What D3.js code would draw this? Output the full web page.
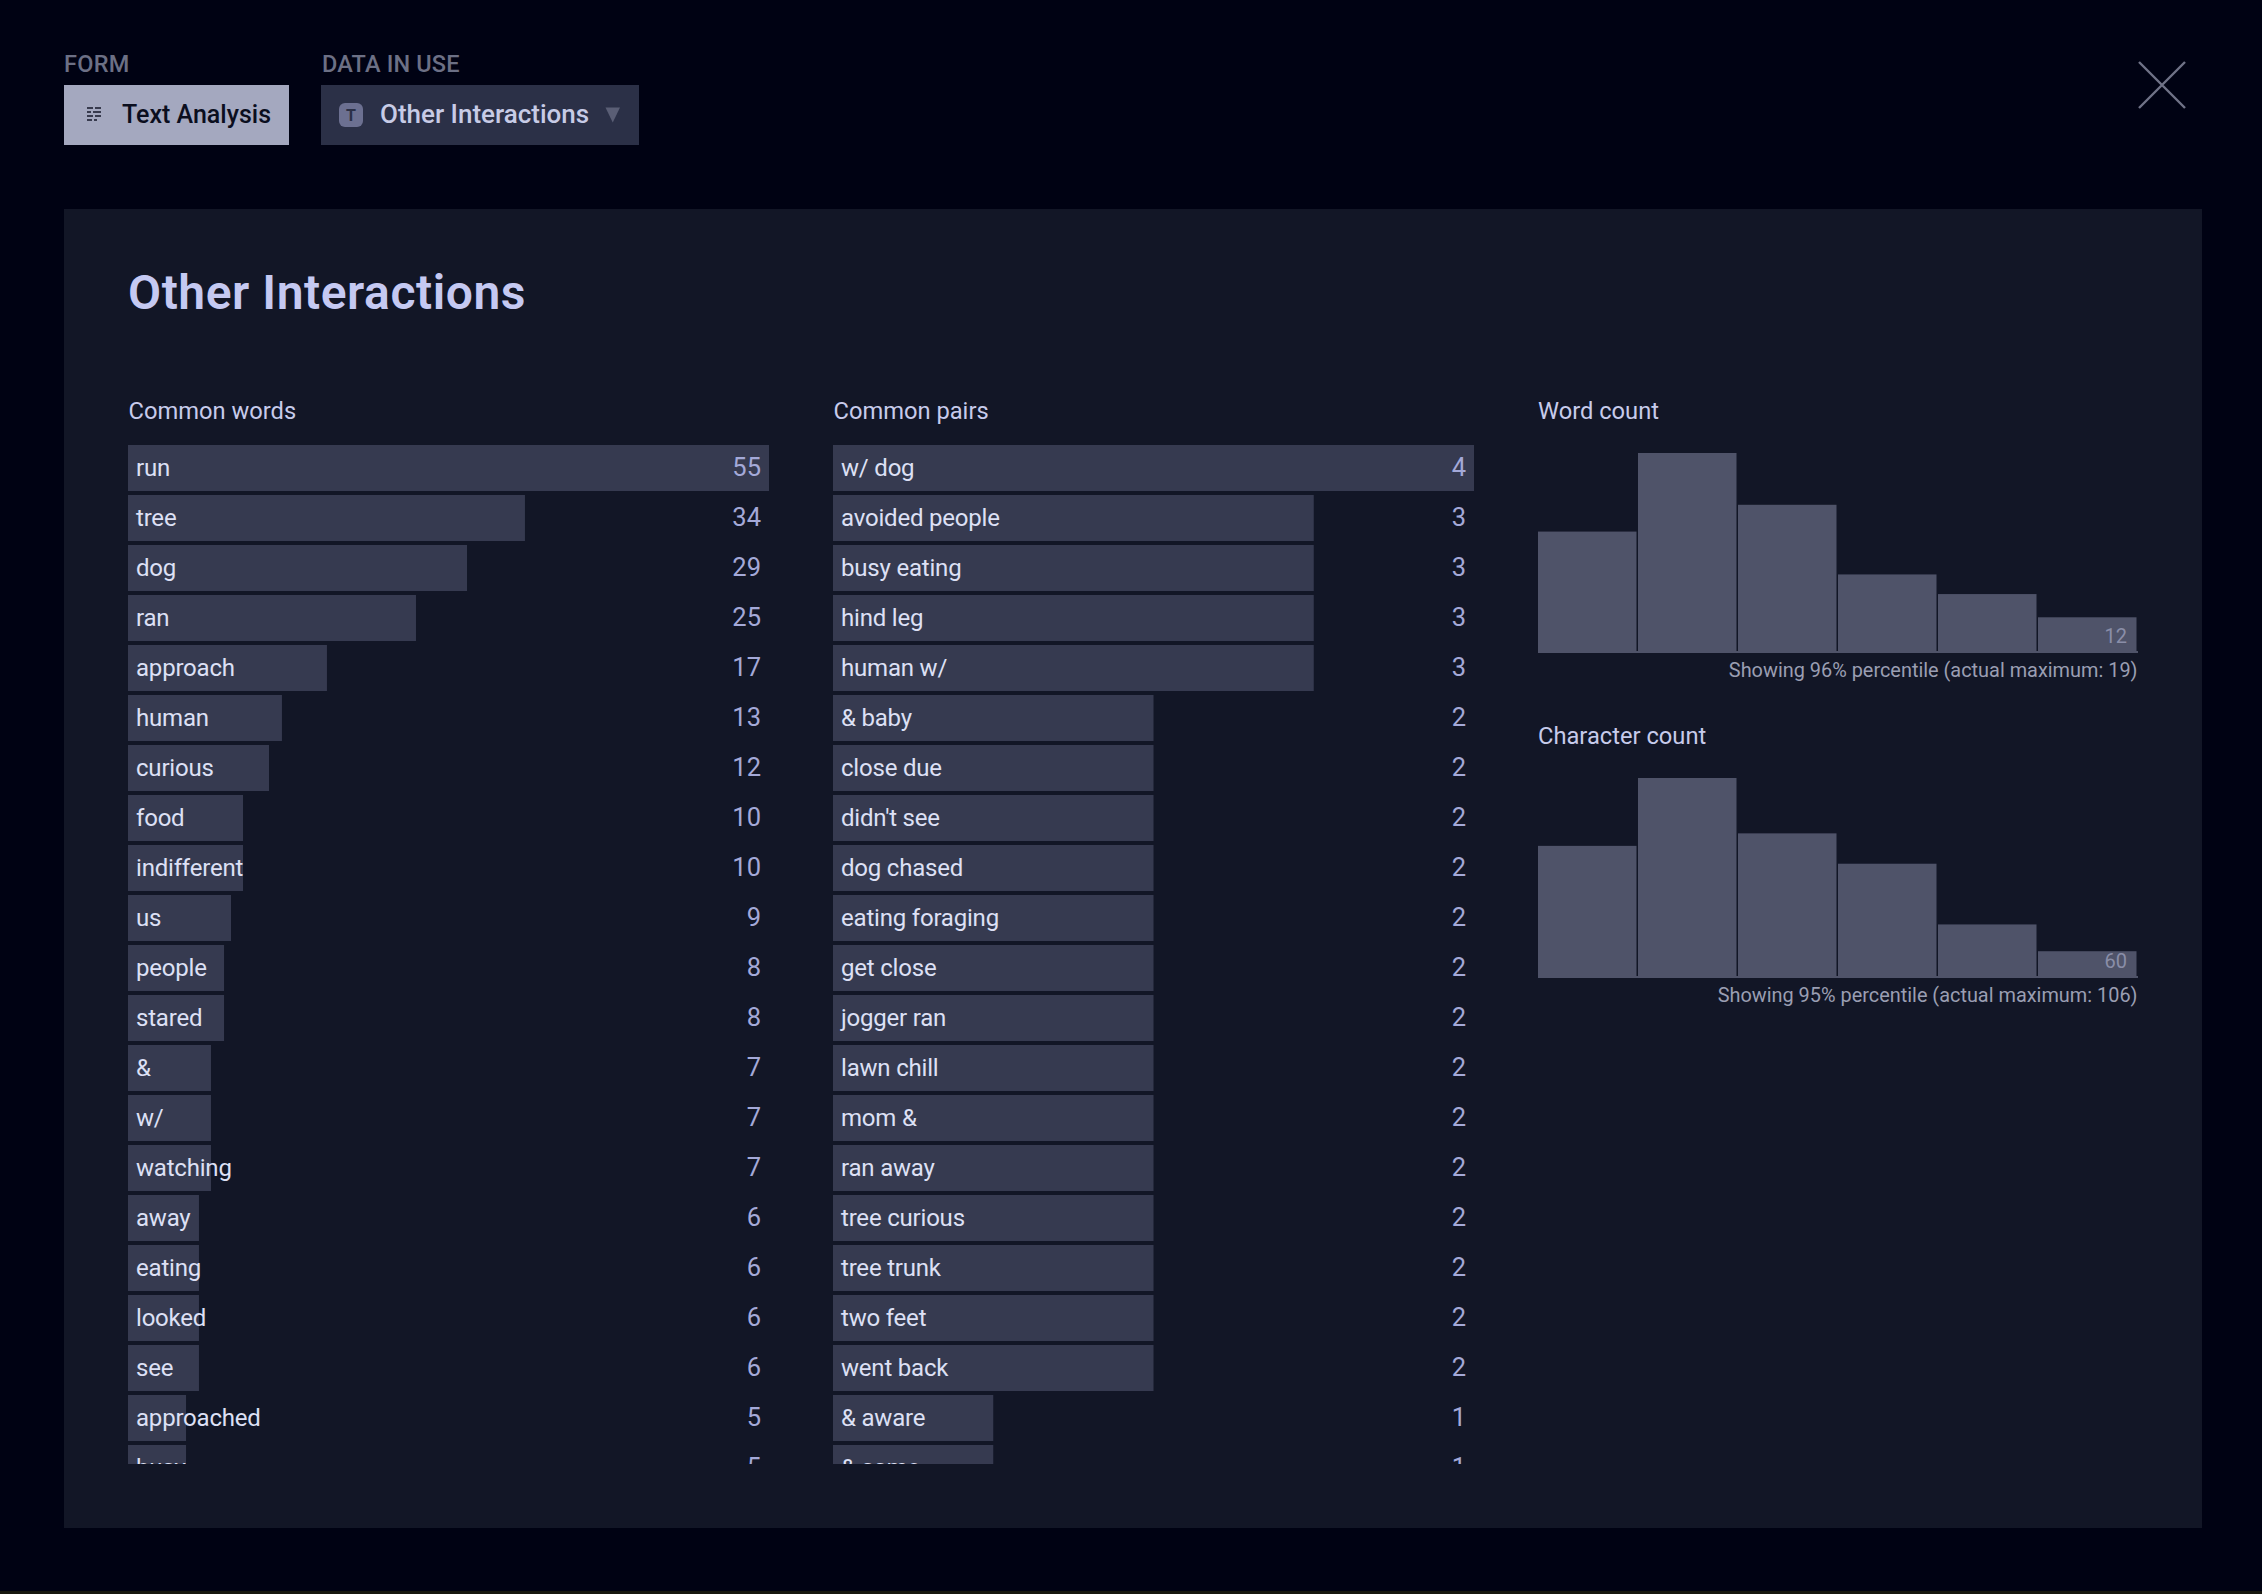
<!DOCTYPE html>
<html>
<head>
<meta charset="utf-8">
<style>
  html, body { margin: 0; padding: 0; background: #000213; overflow: hidden; }
  svg { display: block; }
  text { font-family: "Roboto", sans-serif; }
</style>
<script src="https://d3js.org/d3.v7.min.js"></script>
</head>
<body>
<script>
// values
const commonWords = ["run", "tree", "dog", "ran", "approach", "human", "curious", "food", "indifferent", "us", "people", "stared", "&", "w/", "watching", "away", "eating", "looked", "see", "approached", "busy"];
const commonWordCounts = [55, 34, 29, 25, 17, 13, 12, 10, 10, 9, 8, 8, 7, 7, 7, 6, 6, 6, 6, 5, 5];
// drawn bar lengths do not sit exactly on the printed counts, so they are read separately
const commonWordLengths = [55, 34.06, 29.09, 24.71, 17.07, 13.21, 12.1, 9.87, 9.87, 8.84, 8.24, 8.24, 7.12, 7.12, 7.12, 6.09, 6.09, 6.09, 6.09, 4.98, 4.98];
const commonPairs = ["w/ dog", "avoided people", "busy eating", "hind leg", "human w/", "& baby", "close due", "didn't see", "dog chased", "eating foraging", "get close", "jogger ran", "lawn chill", "mom &", "ran away", "tree curious", "tree trunk", "two feet", "went back", "& aware", "& same"];
const commonPairCounts = [4, 3, 3, 3, 3, 2, 2, 2, 2, 2, 2, 2, 2, 2, 2, 2, 2, 2, 2, 1, 1];
const wordBins = [68, 112, 83, 44, 33, 20];
const charBins = [74, 112, 81, 64, 30, 15];

const width = 2262, height = 1594;
const svg = d3.select("body").append("svg").attr("width", width).attr("height", height);

svg.append("rect").attr("width", width).attr("height", height).attr("fill", "#000213");
svg.append("rect").attr("x", 64).attr("y", 209).attr("width", 2138).attr("height", 1319).attr("fill", "#121626");
// sliver of the page behind the modal at the very bottom
svg.append("rect").attr("y", 1591).attr("width", width).attr("height", 3).attr("fill", "#17170f");

function label(x, y, str, size, color, opts) {
  opts = opts || {};
  return svg.append("text")
    .attr("x", x).attr("y", y)
    .attr("font-size", size)
    .attr("fill", color)
    .attr("font-weight", opts.weight || 400)
    .attr("letter-spacing", opts.spacing || 0)
    .attr("text-anchor", opts.anchor || "start")
    .text(str);
}

// header controls
label(64, 71.5, "FORM", 23.5, "#6c7085", { weight: 500, spacing: 0.3 });
label(322, 71.5, "DATA IN USE", 23.5, "#6c7085", { weight: 500, spacing: 0.15 });
svg.append("rect").attr("x", 64).attr("y", 85).attr("width", 225).attr("height", 60).attr("fill", "#a4a8bf");
svg.append("rect").attr("x", 321).attr("y", 85).attr("width", 318).attr("height", 60).attr("fill", "#2b3047");
label(122, 123, "Text Analysis", 25, "#0b0e1e", { weight: 500 });
label(380, 123, "Other Interactions", 26, "#c7cbe6", { weight: 500 });

// form icon, little dashed text lines
[108, 112, 116, 120].forEach(function (y, i) {
  svg.append("path").attr("d", `M87 ${y}h14`).attr("stroke", "#14172a").attr("stroke-width", 1.4)
    .attr("stroke-dasharray", i == 3 ? "5 2 3 6" : (i % 2 ? "4 2 8" : "6 2 6"));
});
svg.append("rect").attr("x", 339).attr("y", 103).attr("width", 24).attr("height", 24).attr("rx", 6).attr("fill", "#6c7091");
label(351, 121, "T", 16, "#2b3047", { weight: 700, anchor: "middle" });
svg.append("path").attr("d", "M605.5 107.5h14.5l-7.25 15z").attr("fill", "#5a5e75");

// close button
svg.append("path").attr("d", "M2139 62L2185 108M2185 62L2139 108").attr("stroke", "#6f7287").attr("stroke-width", 2.4).attr("fill", "none");

label(128, 309, "Other Interactions", 48, "#c5c9f2", { weight: 600, spacing: 0.55 });

// the two lists scroll, so anything below the fold is cut
svg.append("clipPath").attr("id", "listClip").append("rect").attr("x", 64).attr("y", 430).attr("width", 1500).attr("height", 1034);

function barList(left, title, names, counts, lengths) {
  label(left + 0.5, 419, title, 23.7, "#c7cbeb");
  const x = d3.scaleLinear().domain([0, d3.max(lengths)]).range([left, left + 641]);
  const y = d3.scaleBand().domain(names).range([445, 445 + names.length * 50 - 4]).paddingInner(0.08);
  const g = svg.append("g").attr("clip-path", "url(#listClip)");
  const row = g.selectAll("g").data(names).join("g");
  row.append("rect")
    .attr("x", left)
    .attr("y", function (d) { return y(d); })
    .attr("width", function (d, i) { return x(lengths[i]) - left; })
    .attr("height", y.bandwidth())
    .attr("fill", "#363a50");
  row.append("text")
    .attr("x", left + 8)
    .attr("y", function (d) { return y(d) + 30.5; })
    .attr("font-size", 24)
    .attr("letter-spacing", -0.2)
    .attr("fill", "#dde0f5")
    .text(function (d) { return d; });
  row.append("text")
    .attr("x", left + 633)
    .attr("y", function (d) { return y(d) + 31; })
    .attr("font-size", 25.5)
    .attr("text-anchor", "end")
    .attr("fill", "#a4a9d8")
    .text(function (d, i) { return counts[i]; });
}

barList(128, "Common words", commonWords, commonWordCounts, commonWordLengths);
barList(833, "Common pairs", commonPairs, commonPairCounts, commonPairCounts);

function histogram(top, title, bins, maxLabel, note) {
  label(1538, top - 34, title, 23.7, "#c7cbeb");
  const x = d3.scaleLinear().domain([0, bins.length]).range([1538, 2138]);
  const y = d3.scaleLinear().domain([0, d3.max(bins)]).range([top + 200, top]);
  svg.append("g").selectAll("rect").data(bins).join("rect")
    .attr("x", function (d, i) { return x(i); })
    .attr("y", function (d) { return y(d); })
    .attr("width", function (d, i) { return x(i + 1) - x(i) - 1.5; })
    .attr("height", function (d) { return y(0) - y(d); })
    .attr("fill", "#4f5369");
  svg.append("rect").attr("x", 1538).attr("y", top + 198).attr("width", 600).attr("height", 2).attr("fill", "#4f5369");
  label(2127, top + 190, maxLabel, 20, "#8a8ea8", { anchor: "end" });
  label(2137.5, top + 224, note, 19.9, "#9a9eb2", { anchor: "end" });
}

histogram(453, "Word count", wordBins, "12", "Showing 96% percentile (actual maximum: 19)");
histogram(778, "Character count", charBins, "60", "Showing 95% percentile (actual maximum: 106)");
</script>
</body>
</html>
